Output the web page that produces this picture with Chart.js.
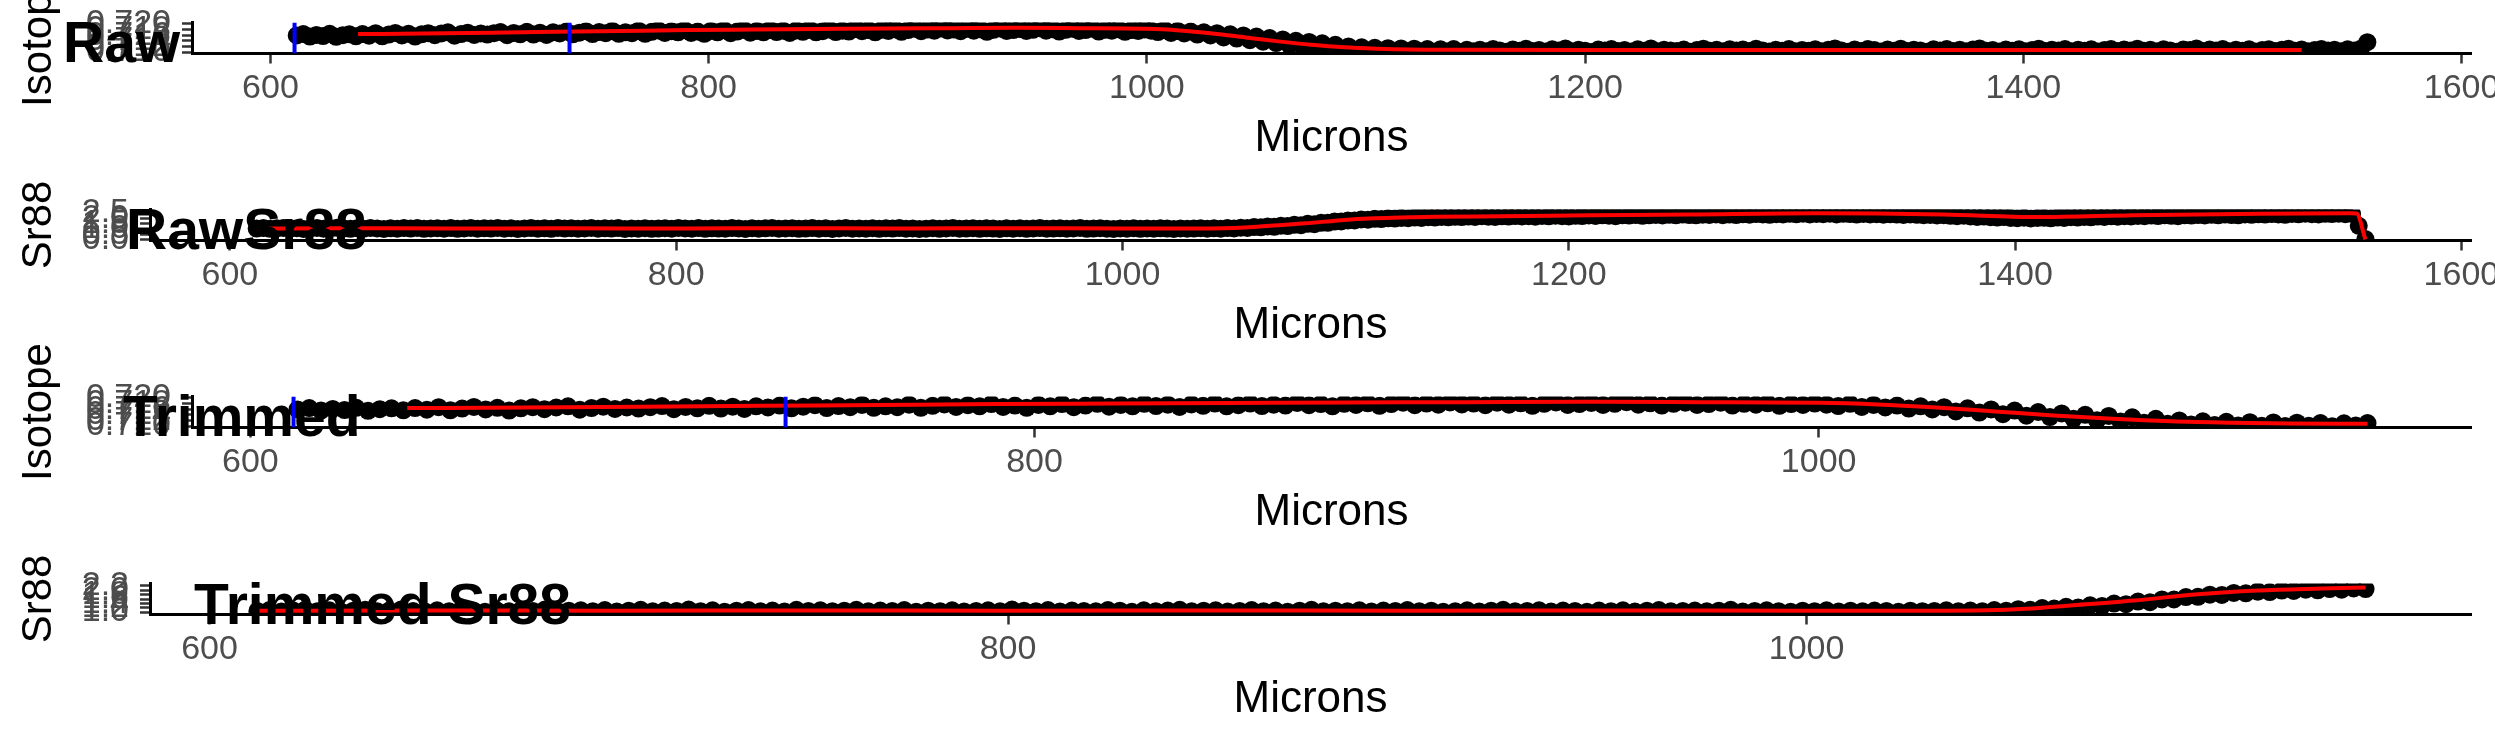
<!DOCTYPE html>
<html>
<head>
<meta charset="utf-8">
<script src="https://cdn.jsdelivr.net/npm/chart.js@4.4.1/dist/chart.umd.min.js"></script>
<style>
  html, body { margin: 0; padding: 0; background: #fff; }
  body { width: 2495px; height: 749px; position: relative; overflow: hidden; }
  .panel { position: absolute; left: 0; width: 2495px; height: 267px; }
  .panel canvas { display: block; }
  .panel-title {
    position: absolute;
    font-family: "Liberation Sans", Arial, sans-serif;
    font-weight: bold;
    font-size: 57px;
    line-height: 57px;
    color: #000;
    white-space: nowrap;
  }
</style>
</head>
<body>
<!-- each canvas reaches 80px above its panel so the long rotated y titles are not cut -->
<div class="panel" style="top:-80px"><canvas id="rawChart" width="2495" height="267"></canvas></div>
<div class="panel" style="top:107px"><canvas id="rawSrChart" width="2495" height="267"></canvas></div>
<div class="panel" style="top:294px"><canvas id="trimChart" width="2495" height="267"></canvas></div>
<div class="panel" style="top:481px"><canvas id="trimSrChart" width="2495" height="267"></canvas></div>

<div class="panel-title" style="left:63px; top:14px;">Raw</div>
<div class="panel-title" style="left:126px; top:201px;">RawSr88</div>
<div class="panel-title" style="left:123px; top:388px;">Trimmed</div>
<div class="panel-title" style="left:194px; top:576px;">Trimmed Sr88</div>

<script>
// ---- DATA: sample positions (microns) ----
const microns = [
  612, 615, 618, 621, 624, 627, 630, 633, 636, 639,
  642, 645, 648, 651, 654, 657, 660, 663, 666, 669,
  672, 675, 678, 681, 684, 687, 690, 693, 696, 699,
  702, 705, 708, 711, 714, 717, 720, 723, 726, 729,
  732, 735, 738, 741, 744, 747, 750, 753, 756, 759,
  762, 765, 768, 771, 774, 777, 780, 783, 786, 789,
  792, 795, 798, 801, 804, 807, 810, 813, 816, 819,
  822, 825, 828, 831, 834, 837, 840, 843, 846, 849,
  852, 855, 858, 861, 864, 867, 870, 873, 876, 879,
  882, 885, 888, 891, 894, 897, 900, 903, 906, 909,
  912, 915, 918, 921, 924, 927, 930, 933, 936, 939,
  942, 945, 948, 951, 954, 957, 960, 963, 966, 969,
  972, 975, 978, 981, 984, 987, 990, 993, 996, 999,
  1002, 1005, 1008, 1011, 1014, 1017, 1020, 1023, 1026, 1029,
  1032, 1035, 1038, 1041, 1044, 1047, 1050, 1053, 1056, 1059,
  1062, 1065, 1068, 1071, 1074, 1077, 1080, 1083, 1086, 1089,
  1092, 1095, 1098, 1101, 1104, 1107, 1110, 1113, 1116, 1119,
  1122, 1125, 1128, 1131, 1134, 1137, 1140, 1143, 1146, 1149,
  1152, 1155, 1158, 1161, 1164, 1167, 1170, 1173, 1176, 1179,
  1182, 1185, 1188, 1191, 1194, 1197, 1200, 1203, 1206, 1209,
  1212, 1215, 1218, 1221, 1224, 1227, 1230, 1233, 1236, 1239,
  1242, 1245, 1248, 1251, 1254, 1257, 1260, 1263, 1266, 1269,
  1272, 1275, 1278, 1281, 1284, 1287, 1290, 1293, 1296, 1299,
  1302, 1305, 1308, 1311, 1314, 1317, 1320, 1323, 1326, 1329,
  1332, 1335, 1338, 1341, 1344, 1347, 1350, 1353, 1356, 1359,
  1362, 1365, 1368, 1371, 1374, 1377, 1380, 1383, 1386, 1389,
  1392, 1395, 1398, 1401, 1404, 1407, 1410, 1413, 1416, 1419,
  1422, 1425, 1428, 1431, 1434, 1437, 1440, 1443, 1446, 1449,
  1452, 1455, 1458, 1461, 1464, 1467, 1470, 1473, 1476, 1479,
  1482, 1485, 1488, 1491, 1494, 1497, 1500, 1503, 1506, 1509,
  1512, 1515, 1518, 1521, 1524, 1527, 1530, 1533, 1536, 1539,
  1542, 1545, 1548, 1551, 1554, 1557
];

// ---- DATA: isotope ratio (black points) ----
const isotopeValues = [
  0.7159, 0.7164, 0.7155, 0.7161, 0.7157, 0.7165, 0.7154, 0.7160, 0.7163, 0.7156,
  0.7164, 0.7158, 0.7167, 0.7156, 0.7162, 0.7168, 0.7159, 0.7165, 0.7155, 0.7163,
  0.7167, 0.7160, 0.7166, 0.7170, 0.7158, 0.7164, 0.7169, 0.7161, 0.7166, 0.7162,
  0.7167, 0.7171, 0.7160, 0.7168, 0.7163, 0.7172, 0.7162, 0.7169, 0.7161, 0.7170,
  0.7166, 0.7173, 0.7163, 0.7169, 0.7174, 0.7164, 0.7171, 0.7167, 0.7175, 0.7165,
  0.7170, 0.7167, 0.7176, 0.7165, 0.7172, 0.7177, 0.7168, 0.7174, 0.7170, 0.7178,
  0.7168, 0.7173, 0.7165, 0.7175, 0.7170, 0.7178, 0.7167, 0.7173, 0.7179, 0.7169,
  0.7175, 0.7170, 0.7179, 0.7171, 0.7176, 0.7168, 0.7177, 0.7172, 0.7180, 0.7170,
  0.7174, 0.7180, 0.7171, 0.7176, 0.7173, 0.7182, 0.7174, 0.7178, 0.7170, 0.7179,
  0.7175, 0.7181, 0.7172, 0.7178, 0.7183, 0.7174, 0.7180, 0.7176, 0.7184, 0.7177,
  0.7180, 0.7174, 0.7183, 0.7176, 0.7181, 0.7172, 0.7179, 0.7184, 0.7175, 0.7178,
  0.7182, 0.7175, 0.7179, 0.7185, 0.7176, 0.7181, 0.7173, 0.7179, 0.7183, 0.7175,
  0.7178, 0.7183, 0.7173, 0.7179, 0.7176, 0.7181, 0.7172, 0.7178, 0.7175, 0.7180,
  0.7176, 0.7171, 0.7179, 0.7168, 0.7175, 0.7166, 0.7173, 0.7162, 0.7170, 0.7159,
  0.7167, 0.7152, 0.7163, 0.7148, 0.7159, 0.7142, 0.7155, 0.7137, 0.7150, 0.7132,
  0.7145, 0.7126, 0.7140, 0.7121, 0.7136, 0.7116, 0.7131, 0.7112, 0.7126, 0.7108,
  0.7120, 0.7106, 0.7117, 0.7104, 0.7115, 0.7102, 0.7114, 0.7101, 0.7113, 0.7100,
  0.7112, 0.7101, 0.7111, 0.7099, 0.7110, 0.7102, 0.7111, 0.7100, 0.7108, 0.7103,
  0.7108, 0.7103, 0.7111, 0.7106, 0.7101, 0.7109, 0.7105, 0.7112, 0.7104, 0.7107,
  0.7102, 0.7110, 0.7106, 0.7113, 0.7103, 0.7108, 0.7105, 0.7100, 0.7109, 0.7106,
  0.7111, 0.7104, 0.7107, 0.7102, 0.7110, 0.7105, 0.7113, 0.7103, 0.7108, 0.7106,
  0.7104, 0.7109, 0.7101, 0.7107, 0.7112, 0.7105, 0.7108, 0.7103, 0.7110, 0.7106,
  0.7109, 0.7104, 0.7112, 0.7106, 0.7102, 0.7108, 0.7105, 0.7111, 0.7103, 0.7107,
  0.7105, 0.7110, 0.7103, 0.7108, 0.7113, 0.7106, 0.7101, 0.7109, 0.7104, 0.7111,
  0.7107, 0.7102, 0.7109, 0.7105, 0.7112, 0.7104, 0.7108, 0.7106, 0.7101, 0.7110,
  0.7106, 0.7111, 0.7104, 0.7108, 0.7103, 0.7109, 0.7113, 0.7105, 0.7107, 0.7102,
  0.7109, 0.7105, 0.7110, 0.7103, 0.7107, 0.7112, 0.7104, 0.7108, 0.7106, 0.7111,
  0.7103, 0.7108, 0.7105, 0.7110, 0.7102, 0.7107, 0.7111, 0.7104, 0.7109, 0.7106,
  0.7112, 0.7105, 0.7108, 0.7103, 0.7110, 0.7106, 0.7101, 0.7109, 0.7107, 0.7113,
  0.7104, 0.7109, 0.7106, 0.7111, 0.7103, 0.7108, 0.7105, 0.7110, 0.7102, 0.7107,
  0.7110, 0.7104, 0.7108, 0.7112, 0.7105, 0.7109, 0.7103, 0.7107, 0.7111, 0.7106,
  0.7108, 0.7103, 0.7110, 0.7106, 0.7112, 0.7135
];

// ---- DATA: Sr88 signal (black points) ----
const sr88Values = [
  1.05, 1.09, 1.02, 1.07, 1.11, 1.04, 1.08, 1.01, 1.06, 1.10,
  1.03, 1.07, 1.12, 1.05, 1.02, 1.08, 1.04, 1.10, 1.06, 1.01,
  1.07, 1.03, 1.09, 1.05, 1.11, 1.02, 1.06, 1.08, 1.04, 1.09,
  1.02, 1.06, 1.10, 1.03, 1.07, 1.05, 1.11, 1.04, 1.08, 1.01,
  1.06, 1.09, 1.03, 1.07, 1.02, 1.10, 1.05, 1.08, 1.04, 1.06,
  1.10, 1.03, 1.07, 1.05, 1.09, 1.01, 1.06, 1.04, 1.08, 1.02,
  1.05, 1.08, 1.03, 1.11, 1.06, 1.04, 1.09, 1.02, 1.07, 1.05,
  1.03, 1.09, 1.06, 1.01, 1.08, 1.04, 1.07, 1.10, 1.03, 1.06,
  1.08, 1.02, 1.05, 1.09, 1.04, 1.07, 1.01, 1.06, 1.10, 1.03,
  1.06, 1.04, 1.08, 1.02, 1.07, 1.05, 1.09, 1.03, 1.06, 1.01,
  1.04, 1.08, 1.02, 1.06, 1.10, 1.03, 1.05, 1.08, 1.02, 1.07,
  1.05, 1.01, 1.07, 1.04, 1.08, 1.02, 1.06, 1.09, 1.03, 1.05,
  1.07, 1.03, 1.06, 1.10, 1.02, 1.05, 1.08, 1.04, 1.01, 1.06,
  1.04, 1.08, 1.02, 1.06, 1.03, 1.07, 1.05, 1.01, 1.06, 1.04,
  1.05, 1.08, 1.03, 1.07, 1.04, 1.09, 1.06, 1.13, 1.10, 1.18,
  1.16, 1.24, 1.21, 1.31, 1.28, 1.39, 1.36, 1.48, 1.45, 1.58,
  1.58, 1.69, 1.70, 1.80, 1.79, 1.88, 1.86, 1.94, 1.92, 1.99,
  1.97, 2.03, 2.00, 2.06, 2.03, 2.09, 2.06, 2.11, 2.08, 2.13,
  2.10, 2.15, 2.12, 2.18, 2.14, 2.11, 2.17, 2.15, 2.20, 2.16,
  2.18, 2.14, 2.21, 2.17, 2.23, 2.19, 2.16, 2.22, 2.20, 2.25,
  2.21, 2.26, 2.23, 2.19, 2.27, 2.24, 2.29, 2.22, 2.26, 2.30,
  2.25, 2.31, 2.27, 2.33, 2.29, 2.26, 2.32, 2.30, 2.35, 2.28,
  2.33, 2.29, 2.36, 2.32, 2.38, 2.34, 2.31, 2.37, 2.35, 2.40,
  2.36, 2.41, 2.34, 2.39, 2.37, 2.42, 2.35, 2.40, 2.38, 2.33,
  2.39, 2.35, 2.37, 2.32, 2.36, 2.33, 2.30, 2.34, 2.31, 2.28,
  2.30, 2.25, 2.28, 2.22, 2.19, 2.23, 2.16, 2.12, 2.15, 2.09,
  2.06, 2.10, 2.03, 2.00, 2.05, 1.98, 2.02, 2.04, 1.99, 2.06,
  2.03, 2.09, 2.06, 2.12, 2.08, 2.15, 2.11, 2.17, 2.14, 2.19,
  2.16, 2.21, 2.18, 2.24, 2.20, 2.26, 2.22, 2.19, 2.27, 2.24,
  2.29, 2.25, 2.31, 2.27, 2.33, 2.29, 2.26, 2.34, 2.31, 2.36,
  2.33, 2.38, 2.35, 2.31, 2.39, 2.36, 2.41, 2.37, 2.34, 2.40,
  2.38, 2.42, 2.37, 2.40, 1.30, 0.08
];

// ---- DATA: smoothed curves (red) ----
const isoSmoothMicrons = [640, 670, 700, 730, 760, 790, 820, 850, 880, 910, 940, 970, 1000,
  1015, 1030, 1045, 1060, 1075, 1090, 1105, 1120, 1140, 1200, 1300, 1400, 1527];
const isoSmoothValues = [0.7164, 0.7166, 0.7169, 0.7172, 0.7175, 0.7178, 0.7180, 0.7182, 0.7184,
  0.7185, 0.7186, 0.7185, 0.7183, 0.7177, 0.7166, 0.7152, 0.7138, 0.7126, 0.7117, 0.7112,
  0.7109, 0.7108, 0.7107, 0.7107, 0.7107, 0.7107];

const sr88SmoothMicrons = [612, 650, 700, 750, 800, 850, 900, 950, 1000, 1030, 1045, 1055, 1066,
  1082, 1098, 1113, 1129, 1140, 1169, 1210, 1254, 1311, 1368, 1410, 1453, 1510, 1550, 1553, 1557];
const sr88SmoothValues = [1.06, 1.07, 1.06, 1.07, 1.06, 1.07, 1.06, 1.07, 1.06, 1.06, 1.08, 1.15, 1.30,
  1.53, 1.82, 1.99, 2.08, 2.13, 2.18, 2.26, 2.34, 2.46, 2.34, 2.10, 2.27, 2.42, 2.46, 2.44, 0.05];

// ---- DATA: trim window markers (blue) ----
const cutMicrons = [611, 736.5];
const trimEnd = 1140;

// ---- TICKS ----
const rawMicronTicks = [600, 800, 1000, 1200, 1400, 1600];
const trimMicronTicks = [600, 800, 1000];
const isoTicks = [0.710, 0.712, 0.714, 0.716, 0.718, 0.720];
const isoTickLabels = ["0.710", "0.712", "0.714", "0.716", "0.718", "0.720"];
const rawSrTicks = [0.0, 0.5, 1.0, 1.5, 2.0, 2.5];
const rawSrTickLabels = ["0.0", "0.5", "1.0", "1.5", "2.0", "2.5"];
const trimSrTicks = [1.0, 1.2, 1.4, 1.6, 1.8, 2.0, 2.2];
const trimSrTickLabels = ["1.0", "1.2", "1.4", "1.6", "1.8", "2.0", "2.2"];

// extra room above each panel (see the canvas offsets above)
const HEADROOM = 80;

Chart.defaults.font.family = "'Liberation Sans', Arial, sans-serif";

function toPoints(xs, ys, maxX) {
  const out = [];
  xs.forEach((x, i) => {
    if (x <= maxX) out.push({ x: x, y: ys[i] });
  });
  return out;
}

// ---- BUILD ONE PANEL ----
function makePanel(id, p) {
  const datasets = [];

  p.cuts.forEach((c) => {
    datasets.push({
      type: "line",
      data: [{ x: c, y: p.yMin }, { x: c, y: p.yMax }],
      borderColor: "#0000ff",
      borderWidth: 4,
      pointRadius: 0,
      showLine: true,
      order: 0,
    });
  });

  datasets.push({
    type: "line",
    data: p.smooth,
    borderColor: "#ff0000",
    borderWidth: 4,
    pointRadius: 0,
    showLine: true,
    cubicInterpolationMode: "monotone",
    order: 1,
  });

  datasets.push({
    type: "scatter",
    data: p.points,
    pointRadius: 9,
    pointBackgroundColor: "#000000",
    pointBorderColor: "#000000",
    pointBorderWidth: 0,
    order: 2,
  });

  return new Chart(document.getElementById(id), {
    type: "scatter",
    data: { datasets: datasets },
    options: {
      responsive: false,
      animation: false,
      devicePixelRatio: 1,
      layout: { padding: { left: 0, top: HEADROOM + 22.5, right: 24, bottom: 0 } },
      plugins: { legend: { display: false }, tooltip: { enabled: false } },
      scales: {
        x: {
          type: "linear",
          min: p.xMin,
          max: p.xMax,
          afterBuildTicks: (s) => {
            s.ticks = p.xTicks.map((v) => ({ value: v }));
          },
          afterFit: (s) => {
            s.height = 133.5;
            s.paddingLeft = 0;
            s.paddingRight = 0;
          },
          grid: { drawOnChartArea: false, tickLength: 10, tickColor: "#333333", tickWidth: 2.5 },
          border: { display: true, color: "#000000", width: 3 },
          ticks: {
            autoSkip: false,
            maxRotation: 0,
            padding: 5,
            color: "#4d4d4d",
            font: { size: 34 },
            callback: (v) => String(v),
          },
          title: {
            display: true,
            text: "Microns",
            color: "#000000",
            font: { size: 44 },
            padding: { top: 0, bottom: 22 },
          },
        },
        y: {
          type: "linear",
          min: p.yMin,
          max: p.yMax,
          afterBuildTicks: (s) => {
            s.ticks = p.yTicks.map((v) => ({ value: v }));
          },
          afterFit: (s) => {
            s.width = p.yLeft;
            s.paddingTop = 0;
            s.paddingBottom = 0;
          },
          grid: { drawOnChartArea: false, tickLength: 10, tickColor: "#333333", tickWidth: 2.5 },
          border: { display: true, color: "#000000", width: 3 },
          ticks: {
            autoSkip: false,
            padding: 11,
            color: "#4d4d4d",
            font: { size: 34 },
            callback: (v, i) => p.yLabels[i],
          },
          title: {
            display: true,
            text: p.yTitle,
            color: "#000000",
            font: { size: 42 },
            padding: { top: 14, bottom: 0 },
          },
        },
      },
    },
  });
}

// ---- PANELS ----
makePanel("rawChart", {
  yLeft: 192,
  xMin: 564.2, xMax: 1604.3, xTicks: rawMicronTicks,
  yMin: 0.7095, yMax: 0.7205, yTicks: isoTicks, yLabels: isoTickLabels,
  yTitle: "Isotope",
  points: toPoints(microns, isotopeValues, Infinity),
  smooth: toPoints(isoSmoothMicrons, isoSmoothValues, Infinity),
  cuts: cutMicrons,
});

makePanel("rawSrChart", {
  yLeft: 150,
  xMin: 564.2, xMax: 1604.3, xTicks: rawMicronTicks,
  yMin: -0.05, yMax: 2.80, yTicks: rawSrTicks, yLabels: rawSrTickLabels,
  yTitle: "Sr88",
  points: toPoints(microns, sr88Values, Infinity),
  smooth: toPoints(sr88SmoothMicrons, sr88SmoothValues, Infinity),
  cuts: [],
});

makePanel("trimChart", {
  yLeft: 192,
  xMin: 585.1, xMax: 1166.4, xTicks: trimMicronTicks,
  yMin: 0.7095, yMax: 0.7205, yTicks: isoTicks, yLabels: isoTickLabels,
  yTitle: "Isotope",
  points: toPoints(microns, isotopeValues, trimEnd),
  smooth: toPoints(isoSmoothMicrons, isoSmoothValues, trimEnd),
  cuts: cutMicrons,
});

makePanel("trimSrChart", {
  yLeft: 150,
  xMin: 585.1, xMax: 1166.4, xTicks: trimMicronTicks,
  yMin: 0.885, yMax: 2.315, yTicks: trimSrTicks, yLabels: trimSrTickLabels,
  yTitle: "Sr88",
  points: toPoints(microns, sr88Values, trimEnd),
  smooth: toPoints(sr88SmoothMicrons, sr88SmoothValues, trimEnd),
  cuts: [],
});
</script>
</body>
</html>
